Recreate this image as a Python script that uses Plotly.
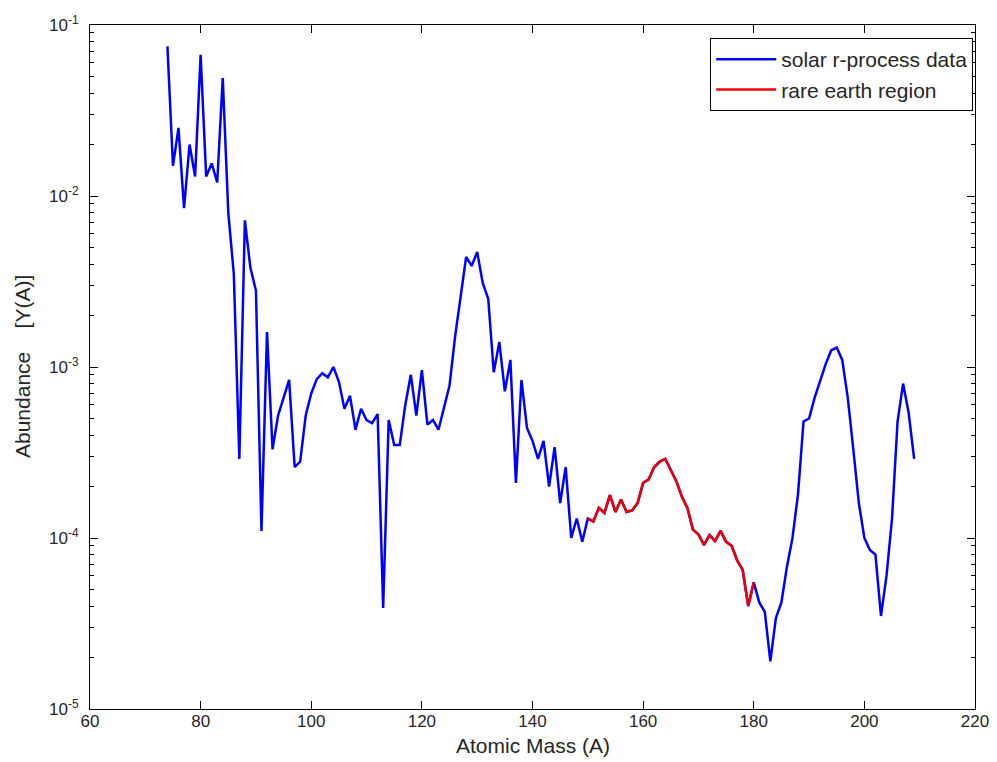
import plotly.graph_objects as go

# Atomic mass numbers (integer A) and solar r-process abundances
mass_start = 74
mass_end = 209
abundance = [
    0.075, 0.015, 0.025, 0.0085, 0.020, 0.013, 0.067, 0.013, 0.0155, 0.012,      # 74-83
    0.049, 0.008, 0.0035, 0.00029, 0.0072, 0.0038, 0.0028, 0.00011, 0.0016, 0.00033,  # 84-93
    0.00052, 0.00066, 0.00084, 0.00026, 0.00028, 0.00052, 0.00070, 0.00085, 0.00092, 0.00087,  # 94-103
    0.00100, 0.00082, 0.00057, 0.00068, 0.00043, 0.00057, 0.00049, 0.00047, 0.00053, 0.000039,  # 104-113
    0.00049, 0.00035, 0.00035, 0.00060, 0.00090, 0.00052, 0.00096, 0.00046, 0.00049, 0.00043,  # 114-123
    0.00057, 0.00078, 0.0015, 0.0025, 0.0044, 0.0039, 0.0047, 0.0031, 0.0025, 0.00093,  # 124-133
    0.0014, 0.00072, 0.0011, 0.00021, 0.00084, 0.00044, 0.00037, 0.00029, 0.00037, 0.00020,  # 134-143
    0.00034, 0.00016, 0.00026, 0.00010, 0.00013, 0.000095, 0.00013, 0.000125, 0.00015, 0.00014,  # 144-153
    0.000178, 0.000142, 0.000168, 0.000142, 0.000145, 0.00016, 0.00021, 0.00022, 0.00026, 0.00028,  # 154-163
    0.00029, 0.00025, 0.000215, 0.000175, 0.00015, 0.000112, 0.000105, 0.000091, 0.000104, 0.000096,  # 164-173
    0.00011, 0.000095, 0.00009, 0.000074, 0.000065, 0.00004, 0.000055, 0.000042, 0.000037, 0.000019,  # 174-183
    0.000034, 0.000042, 0.000068, 0.0001, 0.00018, 0.00048, 0.0005, 0.00066, 0.00084, 0.00104,  # 184-193
    0.00125, 0.0013, 0.0011, 0.00066, 0.00033, 0.00016, 0.0001, 0.000085, 0.00008, 0.000035,  # 194-203
    0.00006, 0.00013, 0.00048, 0.0008, 0.00054, 0.00029,  # 204-209
]
mass = list(range(mass_start, mass_end + 1))

# rare earth region bounds
rare_earth_start = 150
rare_earth_end = 180
re_mass = [m for m in mass if rare_earth_start <= m <= rare_earth_end]
re_abund = [a for m, a in zip(mass, abundance) if rare_earth_start <= m <= rare_earth_end]

x_ticks = [60, 80, 100, 120, 140, 160, 180, 200, 220]
y_ticks = [1e-5, 1e-4, 1e-3, 1e-2, 1e-1]
y_ticktext = ["10<sup>-5</sup>", "10<sup>-4</sup>", "10<sup>-3</sup>", "10<sup>-2</sup>", "10<sup>-1</sup>"]
y_minor = [m * 10 ** e for e in range(-5, -1) for m in range(2, 10)]

x_title = "Atomic Mass (A)"
y_title = "Abundance\u00a0\u00a0\u00a0\u00a0[Y(A)]"

FONT = "Liberation Sans, Arial, sans-serif"
TEXT_COLOR = "#262626"

fig = go.Figure()
fig.add_trace(go.Scatter(x=mass, y=abundance, mode="lines", name="solar r-process data",
                         line=dict(color="#0000ff", width=2.5)))
fig.add_trace(go.Scatter(x=re_mass, y=re_abund, mode="lines", name="rare earth region",
                         line=dict(color="#ee0000", width=2.5)))

# the page body adds an 8px offset, so the figure is sized to fit inside the window
fig.update_layout(
    width=989, height=754,
    margin=dict(l=82, r=22, t=17, b=53, pad=0),
    paper_bgcolor="white", plot_bgcolor="white",
    font=dict(family=FONT, size=17, color=TEXT_COLOR),
    showlegend=True,
    legend=dict(x=0.998, y=0.981, xanchor="right", yanchor="top",
                bgcolor="white", bordercolor="black", borderwidth=1,
                font=dict(family=FONT, size=21, color=TEXT_COLOR),
                itemwidth=60, tracegroupgap=0),
    annotations=[
        dict(text=x_title, xref="paper", yref="paper", x=0.5, y=0, xanchor="center",
             yanchor="middle", yshift=-36, showarrow=False,
             font=dict(family=FONT, size=21, color=TEXT_COLOR)),
        dict(text=y_title, xref="paper", yref="paper", x=0, y=0.5, xanchor="center",
             yanchor="middle", xshift=-68, textangle=-90, showarrow=False,
             font=dict(family=FONT, size=21, color=TEXT_COLOR)),
    ],
)
fig.update_xaxes(
    range=[60, 220], tickmode="array", tickvals=x_ticks, automargin=False,
    showline=True, linecolor="black", linewidth=1, mirror="allticks",
    ticks="inside", ticklen=8, tickcolor="black", showgrid=False, zeroline=False,
    tickfont=dict(size=17), ticklabelstandoff=-3,
)
fig.update_yaxes(
    type="log", range=[-5, -1], tickmode="array", tickvals=y_ticks, ticktext=y_ticktext,
    automargin=False,
    showline=True, linecolor="black", linewidth=1, mirror="allticks",
    ticks="inside", ticklen=8, tickcolor="black", showgrid=False, zeroline=False,
    minor=dict(tickmode="array", tickvals=y_minor, ticks="inside", ticklen=4,
               tickcolor="black", showgrid=False),
    tickfont=dict(size=17), ticklabelstandoff=7,
)

fig.write_html("out.html")
